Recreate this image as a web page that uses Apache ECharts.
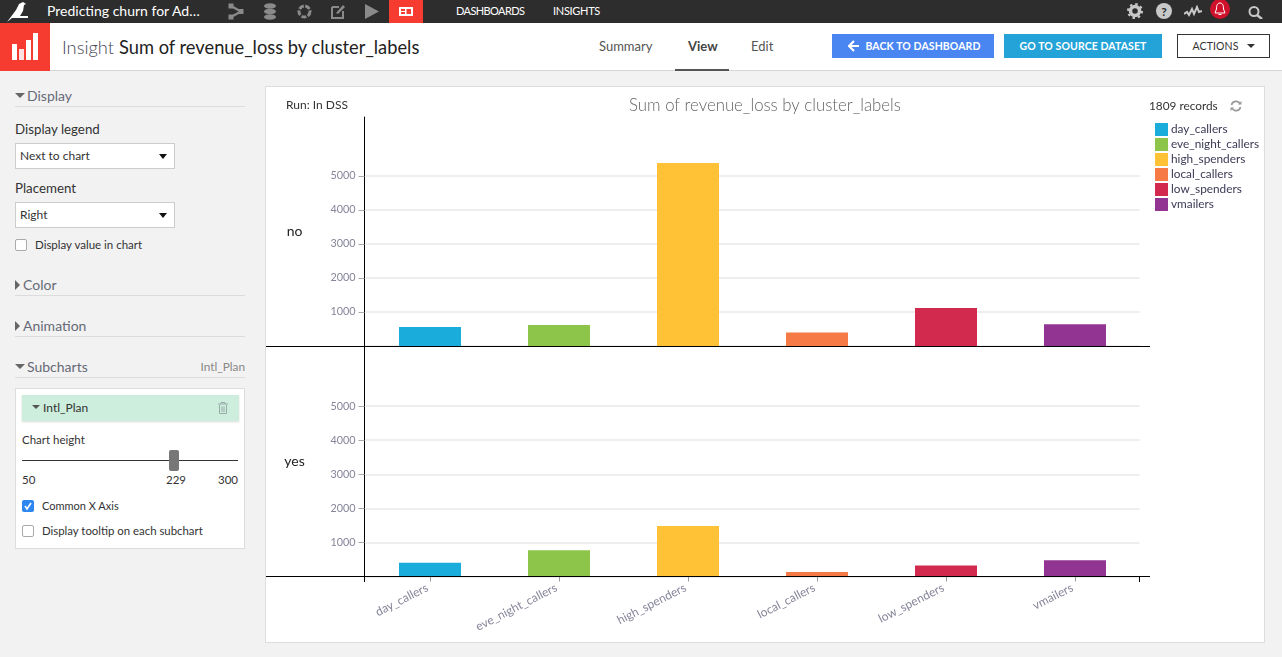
<!DOCTYPE html>
<html>
<head>
<meta charset="utf-8">
<title>Insight</title>
<script src="https://cdn.jsdelivr.net/npm/echarts@6/dist/echarts.min.js"></script>
<style>
  html, body { margin: 0; padding: 0; }
  body { width: 1282px; height: 657px; background: #f2f2f2; overflow: hidden; position: relative; font-family: Lato, "Noto Sans", sans-serif; color: #333; }
  .box { position: absolute; box-sizing: border-box; }
  .t { position: absolute; line-height: 20px; height: 20px; white-space: nowrap; }
  .hdr { font-size: 14px; color: #666a77; }
  .line { position: absolute; height: 1px; background: #dcdcdc; left: 15px; width: 230px; }
  .sel { position: absolute; box-sizing: border-box; left: 15px; width: 160px; height: 26px; background: #fff; border: 1px solid #ccc; font-size: 12px; line-height: 24px; padding-left: 4px; color: #333; }
  .sel:after { content: ""; position: absolute; right: 7px; top: 10px; border: 4px solid transparent; border-top: 5px solid #111; }
  .cb { position: absolute; box-sizing: border-box; width: 12px; height: 12px; border: 1px solid #aaa; border-radius: 2px; background: #fff; }
  .tri-d { position: absolute; border: 5px solid transparent; border-top: 5px solid #666; }
  .tri-r { position: absolute; border: 5px solid transparent; border-left: 5px solid #666; }
  .btn { position: absolute; box-sizing: border-box; top: 34px; height: 24px; font-size: 10.5px; font-weight: 700; line-height: 24px; text-align: center; color: #fff; letter-spacing: 0.1px; }
  svg { position: absolute; }
</style>
</head>
<body>
<!-- top bar -->
<div class="box" style="left:0;top:0;width:1282px;height:23px;background:#2d2d2d"></div>
<svg style="left:7px;top:1px" width="22" height="21" viewBox="0 0 22 21"><path d="M0 21 L9 9 L12 3 L16 1 L19 3 L17 4 L16 10 L13 15 L21 15 L21 17 L9 17 L5 17 Z" fill="#fff"/></svg>
<div class="t" style="left:47px;top:1px;font-size:14px;color:#fff">Predicting churn for Ad…</div>
<svg style="left:228px;top:3px" width="16" height="17" viewBox="0 0 16 17"><path d="M3 3 L13 8.5 L3 14" fill="none" stroke="#8a8a8a" stroke-width="2.2"/><rect x="0.5" y="0.5" width="5" height="5" fill="#8a8a8a"/><rect x="10.5" y="6" width="5" height="5" fill="#8a8a8a"/><rect x="0.5" y="11.5" width="5" height="5" fill="#8a8a8a"/></svg>
<svg style="left:264px;top:3px" width="12" height="17" viewBox="0 0 12 17"><ellipse cx="6" cy="3" rx="6" ry="2.8" fill="#8a8a8a"/><ellipse cx="6" cy="8.5" rx="6" ry="2.8" fill="#8a8a8a"/><ellipse cx="6" cy="14" rx="6" ry="2.8" fill="#8a8a8a"/></svg>
<svg style="left:297px;top:4px" width="15" height="15" viewBox="0 0 15 15"><circle cx="7.5" cy="7.5" r="5.5" fill="none" stroke="#8a8a8a" stroke-width="3" stroke-dasharray="5 1.5"/></svg>
<svg style="left:331px;top:4px" width="14" height="15" viewBox="0 0 14 15"><path d="M1 3 H8 M1 3 V14 H12 V7" fill="none" stroke="#8a8a8a" stroke-width="2"/><path d="M5 9 L12 1 L14 3 L7 10 Z" fill="#8a8a8a"/></svg>
<svg style="left:365px;top:4px" width="14" height="15" viewBox="0 0 14 15"><path d="M0 0 L14 7.5 L0 15 Z" fill="#8a8a8a"/></svg>
<div class="box" style="left:389px;top:0;width:34px;height:23px;background:#f63b30"></div>
<svg style="left:399px;top:7px" width="14" height="9" viewBox="0 0 14 9"><rect x="0" y="0" width="14" height="9" fill="#fff"/><rect x="2" y="2" width="4" height="2" fill="#f63b30"/><rect x="2" y="5" width="4" height="2" fill="#f63b30"/><rect x="7.5" y="2" width="4.5" height="5" fill="#f63b30"/></svg>
<div class="t" style="left:456px;top:1px;font-size:11px;letter-spacing:-0.6px;color:#fff">DASHBOARDS</div>
<div class="t" style="left:553px;top:1px;font-size:11px;letter-spacing:-0.3px;color:#fff">INSIGHTS</div>
<div class="box" style="left:575px;top:19px;border:4px solid transparent;border-bottom:4px solid #fff"></div>
<svg style="left:1127px;top:3px" width="16" height="16" viewBox="0 0 16 16"><circle cx="8" cy="8" r="4.5" fill="none" stroke="#c8c8c8" stroke-width="3.5"/><circle cx="8" cy="8" r="7" fill="none" stroke="#c8c8c8" stroke-width="2" stroke-dasharray="2.5 3"/></svg>
<svg style="left:1156px;top:3px" width="16" height="16" viewBox="0 0 16 16"><circle cx="8" cy="8" r="8" fill="#c8c8c8"/><text x="8" y="12.5" font-size="12" font-weight="700" text-anchor="middle" fill="#2d2d2d" font-family="Lato">?</text></svg>
<svg style="left:1184px;top:5px" width="18" height="13" viewBox="0 0 18 13"><path d="M0 9 L3 7 L5 10 L8 4 L10 9 L13 2 L15 7 L18 6" fill="none" stroke="#c8c8c8" stroke-width="2"/></svg>
<svg style="left:1210px;top:-1px" width="20" height="21" viewBox="0 0 20 21"><circle cx="10" cy="10" r="10" fill="#d0112b"/><path d="M10 4 C7 4 6.5 7 6.5 10 L5 14 H15 L13.5 10 C13.5 7 13 4 10 4 Z M8.5 15.5 H11.5" fill="none" stroke="#fff" stroke-width="1"/></svg>
<svg style="left:1248px;top:6px" width="15" height="13" viewBox="0 0 15 13"><circle cx="6" cy="5.5" r="4.5" fill="none" stroke="#c8c8c8" stroke-width="2"/><path d="M9 9 L14 13" stroke="#c8c8c8" stroke-width="2.5"/></svg>

<!-- header -->
<div class="box" style="left:0;top:23px;width:1282px;height:48px;background:#fff;border-bottom:1px solid #d6d6d6"></div>
<div class="box" style="left:0;top:23px;width:50px;height:48px;background:#f63b30"></div>
<svg style="left:12px;top:33px" width="26" height="27" viewBox="0 0 26 27"><rect x="0" y="11" width="5" height="16" fill="#fff"/><rect x="7" y="16" width="5" height="11" fill="#fff" opacity="0.85"/><rect x="14" y="7" width="5" height="20" fill="#fff"/><rect x="21" y="0" width="5" height="27" fill="#fff"/></svg>
<div class="t" style="left:62px;top:37px;font-size:18.3px;color:#445;font-weight:300">Insight <span style="color:#222;font-weight:400">Sum of revenue_loss by cluster_labels</span></div>
<div class="t" style="left:599px;top:36px;font-size:13px;color:#555">Summary</div>
<div class="t" style="left:688px;top:36px;font-size:13px;color:#444;font-weight:700">View</div>
<div class="t" style="left:751px;top:36px;font-size:13px;color:#555">Edit</div>
<div class="box" style="left:675px;top:69px;width:54px;height:2px;background:#555"></div>
<div class="btn" style="left:832px;width:162px;background:#4a86f2;padding-left:20px">BACK TO DASHBOARD</div>
<svg style="left:848px;top:40px" width="11" height="12" viewBox="0 0 11 12"><path d="M6 1 L1 6 L6 11 M1 6 H11" fill="none" stroke="#fff" stroke-width="2.2"/></svg>
<div class="btn" style="left:1004px;width:158px;background:#24a3d8">GO TO SOURCE DATASET</div>
<div class="btn" style="left:1177px;width:93px;background:#fff;border:1px solid #333;color:#333;font-weight:400;line-height:22px;padding-right:16px">ACTIONS</div>
<div class="box" style="left:1247px;top:44px;border:4px solid transparent;border-top:4px solid #333"></div>

<!-- left panel -->
<div class="tri-d" style="left:15px;top:93px"></div>
<div class="t hdr" style="left:27px;top:86px">Display</div>
<div class="line" style="top:106px"></div>
<div class="t" style="left:15px;top:119px;font-size:13.3px">Display legend</div>
<div class="sel" style="top:143px">Next to chart</div>
<div class="t" style="left:15px;top:178px;font-size:13.3px">Placement</div>
<div class="sel" style="top:202px">Right</div>
<div class="cb" style="left:15px;top:239px"></div>
<div class="t" style="left:35px;top:235px;font-size:11.5px">Display value in chart</div>
<div class="tri-r" style="left:15px;top:280px"></div>
<div class="t hdr" style="left:23px;top:275px">Color</div>
<div class="line" style="top:295px"></div>
<div class="tri-r" style="left:15px;top:321px"></div>
<div class="t hdr" style="left:23px;top:316px">Animation</div>
<div class="line" style="top:336px"></div>
<div class="tri-d" style="left:15px;top:364px"></div>
<div class="t hdr" style="left:27px;top:357px">Subcharts</div>
<div class="t" style="right:1037px;top:357px;font-size:11.8px;color:#888">Intl_Plan</div>
<div class="line" style="top:377px"></div>
<div class="box" style="left:15px;top:388px;width:230px;height:161px;background:#fff;border:1px solid #ddd"></div>
<div class="box" style="left:22px;top:395px;width:217px;height:26px;background:#cdeedd;box-shadow:0 1px 2px rgba(0,0,0,0.15)"></div>
<div class="box" style="left:32px;top:405px;border:4px solid transparent;border-top:4px solid #555"></div>
<div class="t" style="left:43px;top:398px;font-size:12px;color:#333">Intl_Plan</div>
<svg style="left:218px;top:402px" width="10" height="12" viewBox="0 0 10 12"><path d="M0 2 H10 M3 2 V0.5 H7 V2 M1.5 3 V11.5 H8.5 V3 M4 4.5 V10 M6 4.5 V10" fill="none" stroke="#9aa" stroke-width="1"/></svg>
<div class="t" style="left:22px;top:430px;font-size:11.5px">Chart height</div>
<div class="box" style="left:22px;top:460px;width:216px;height:1px;background:#333"></div>
<div class="box" style="left:169px;top:450px;width:10px;height:21px;background:#777;border-radius:2px"></div>
<div class="t" style="left:22px;top:470px;font-size:11.5px">50</div>
<div class="t" style="left:166px;top:470px;font-size:11.5px">229</div>
<div class="t" style="right:1044px;top:470px;font-size:11.5px">300</div>
<div class="box" style="left:22px;top:500px;width:12px;height:12px;background:#2e86f0;border-radius:2px"></div>
<svg style="left:22px;top:500px" width="12" height="12" viewBox="0 0 12 12"><path d="M3 6 L5 9 L9 3" fill="none" stroke="#fff" stroke-width="1.6"/></svg>
<div class="t" style="left:42px;top:496px;font-size:11px">Common X Axis</div>
<div class="cb" style="left:22px;top:525px"></div>
<div class="t" style="left:42px;top:521px;font-size:11.4px">Display tooltip on each subchart</div>

<!-- chart card -->
<div class="box" style="left:265px;top:86px;width:1000px;height:557px;background:#fff;border:1px solid #ddd"></div>
<div id="chart" class="box" style="left:266px;top:87px;width:998px;height:555px"></div>
<div class="t" style="left:286px;top:95px;font-size:12px;color:#333">Run: In DSS</div>
<div class="t" style="left:1149px;top:96px;font-size:11.8px;color:#333">1809 records</div>
<svg style="left:1230px;top:100px" width="12" height="12" viewBox="0 0 12 12"><path d="M1.5 5 A4.5 4.5 0 0 1 10 4 M10.5 7 A4.5 4.5 0 0 1 2 8" fill="none" stroke="#999" stroke-width="1.6"/><path d="M8 4.5 H11.5 V1 Z M4 7.5 H0.5 V11 Z" fill="#999"/></svg>

<script>
var chartTitle = 'Sum of revenue_loss by cluster_labels';
var categories = ['day_callers', 'eve_night_callers', 'high_spenders', 'local_callers', 'low_spenders', 'vmailers'];
var noValues = [560, 620, 5380, 400, 1120, 640];
var yesValues = [400, 770, 1480, 130, 320, 480];
var rowNames = ['no', 'yes'];
var rowValues = [noValues, yesValues];
var yTicks = [0, 1000, 2000, 3000, 4000, 5000];
var yMax = 6735;
var colors = ['#1aaddb', '#8dc54a', '#ffc136', '#f57a45', '#d12a4e', '#923592'];

var chart = echarts.init(document.getElementById('chart'));

var labelColor = '#85859a';
var gridPos = [
  { left: 99.5, width: 774, top: 30, height: 229 },
  { left: 99.5, width: 774, top: 260, height: 229.5 }
];
var xAxes = [], yAxes = [], series = [];

rowNames.forEach(function (name, r) {
  xAxes.push({
    type: 'category',
    gridIndex: r,
    data: categories,
    axisLine: { show: false },
    axisTick: { show: r == 1, alignWithLabel: true, length: 5, lineStyle: { color: '#999' } },
    axisLabel: {
      show: r == 1,
      rotate: 27,
      margin: 9,
      padding: [0, 3, 0, 0],
      interval: 0,
      fontFamily: 'Lato',
      fontSize: 12,
      color: labelColor
    }
  });
  yAxes.push({
    type: 'value',
    gridIndex: r,
    min: 0,
    max: yMax,
    offset: 1,
    name: name,
    nameLocation: 'middle',
    nameRotate: 0,
    nameGap: 70,
    nameTextStyle: { fontFamily: 'Lato', fontSize: 14, color: '#222', align: 'center' },
    axisLine: { show: true, lineStyle: { color: '#000', width: 1 } },
    axisTick: { show: true, length: 6, customValues: yTicks, lineStyle: { color: '#aaa' } },
    axisLabel: {
      margin: 9,
      customValues: yTicks.slice(1),
      formatter: function (v) { return String(v); },
      fontFamily: 'Lato',
      fontSize: 10.8,
      color: labelColor
    },
    splitLine: { show: true, lineStyle: { color: '#e8e8e8', width: 1.5 } }
  });
  categories.forEach(function (cat, i) {
    series.push({
      name: cat,
      type: 'bar',
      xAxisIndex: r,
      yAxisIndex: r,
      barWidth: 62,
      barGap: '-100%',
      itemStyle: { color: colors[i] },
      data: categories.map(function (c, j) { return j == i ? rowValues[r][i] : null; })
    });
  });
});

var option = {
  animation: false,
  backgroundColor: 'transparent',
  title: {
    text: chartTitle,
    left: 'center',
    top: 10,
    textStyle: { fontFamily: 'Lato', fontSize: 16.8, fontWeight: 300, color: '#666' },
    padding: [0, 0, 0, 3]
  },
  legend: {
    orient: 'vertical',
    left: 889,
    top: 36,
    itemWidth: 13,
    itemHeight: 13,
    itemGap: 2,
    icon: 'rect',
    padding: 0,
    textStyle: { fontFamily: 'Lato', fontSize: 11.8, color: '#3a3a55', padding: [0, 0, 0, -2] },
    data: categories
  },
  grid: gridPos,
  xAxis: xAxes,
  yAxis: yAxes,
  series: series,
  // black axis lines run past the plot area
  graphic: [
    { type: 'line', shape: { x1: 0, y1: 259.5, x2: 884, y2: 259.5 }, style: { stroke: '#000', lineWidth: 1 }, z: 20 },
    { type: 'line', shape: { x1: 0, y1: 489.5, x2: 884, y2: 489.5 }, style: { stroke: '#000', lineWidth: 1 }, z: 20 },
    { type: 'line', shape: { x1: 98.5, y1: 489, x2: 98.5, y2: 495 }, style: { stroke: '#000', lineWidth: 1 }, z: 20 },
    { type: 'line', shape: { x1: 873.5, y1: 490, x2: 873.5, y2: 495 }, style: { stroke: '#000', lineWidth: 1 }, z: 20 }
  ]
};

chart.setOption(option);
</script>
</body>
</html>
